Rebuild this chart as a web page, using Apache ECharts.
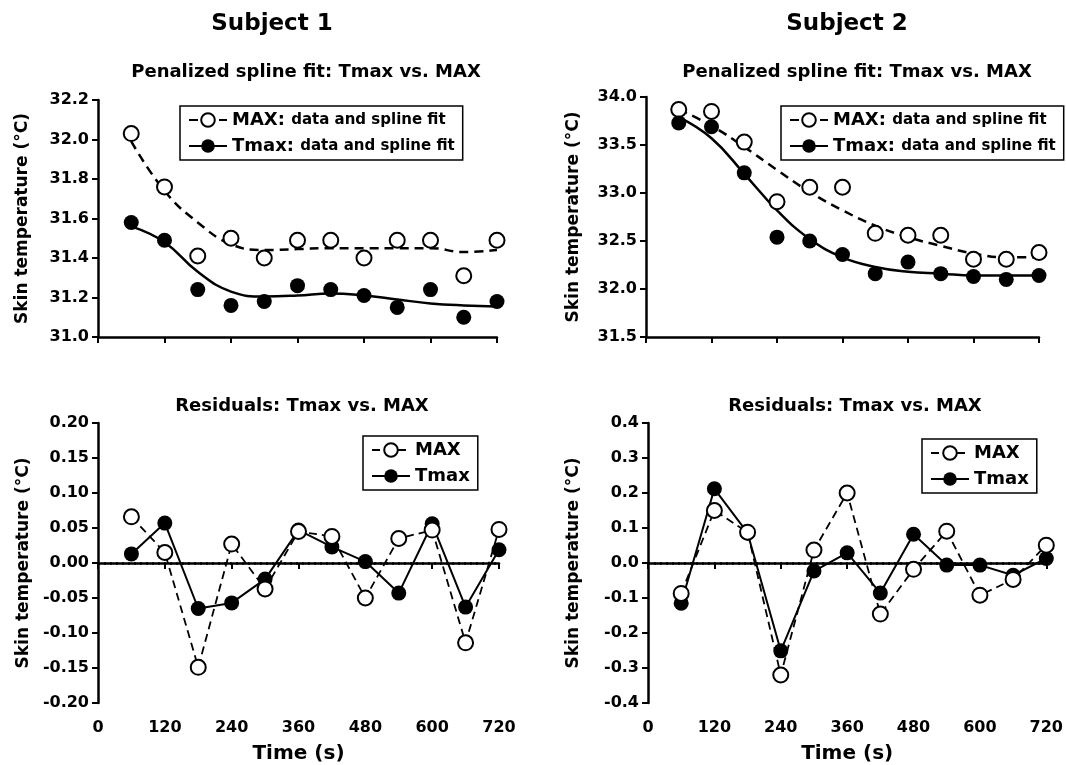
<!DOCTYPE html>
<html>
<head>
<meta charset="utf-8">
<script src="https://cdn.jsdelivr.net/npm/echarts@6.0.0/dist/echarts.min.js"></script>
<style>
  html, body { margin: 0; padding: 0; background: #fff; }
  #main { width: 1066px; height: 765px; }
</style>
</head>
<body>
<div id="main"></div>
<script>
// time points (s)
const times = [60, 120, 180, 240, 300, 360, 420, 480, 540, 600, 660, 720]

// Subject 1, spline panel
const s1MaxData = [32.03, 31.76, 31.41, 31.50, 31.40, 31.49, 31.49, 31.40, 31.49, 31.49, 31.31, 31.49]
const s1TmaxData = [31.58, 31.49, 31.24, 31.16, 31.18, 31.26, 31.24, 31.21, 31.15, 31.24, 31.10, 31.18]
const s1MaxFit = [31.99, 31.74, 31.58, 31.47, 31.44, 31.445, 31.45, 31.45, 31.45, 31.45, 31.43, 31.44]
const s1TmaxFit = [31.56, 31.48, 31.33, 31.23, 31.205, 31.21, 31.22, 31.21, 31.19, 31.17, 31.16, 31.155]

// Subject 2, spline panel
const s2MaxData = [33.87, 33.85, 33.53, 32.91, 33.06, 33.06, 32.58, 32.56, 32.56, 32.31, 32.31, 32.38]
const s2TmaxData = [33.73, 33.69, 33.21, 32.54, 32.50, 32.36, 32.16, 32.28, 32.16, 32.13, 32.10, 32.14]
const s2MaxFit = [33.87, 33.70, 33.48, 33.24, 33.01, 32.82, 32.66, 32.54, 32.45, 32.37, 32.33, 32.33]
const s2TmaxFit = [33.79, 33.57, 33.20, 32.82, 32.52, 32.33, 32.23, 32.18, 32.16, 32.14, 32.14, 32.14]

// residuals
const s1MaxRes = [0.066, 0.015, -0.149, 0.027, -0.037, 0.045, 0.038, -0.050, 0.035, 0.047, -0.114, 0.048]
const s1TmaxRes = [0.013, 0.057, -0.065, -0.057, -0.023, 0.047, 0.023, 0.002, -0.043, 0.056, -0.063, 0.019]
const s2MaxRes = [-0.087, 0.150, 0.088, -0.320, 0.037, 0.200, -0.146, -0.018, 0.091, -0.092, -0.047, 0.051]
const s2TmaxRes = [-0.115, 0.212, 0.086, -0.251, -0.023, 0.029, -0.086, 0.082, -0.006, -0.006, -0.035, 0.013]

const FONT = 'DejaVu Sans'
const pair = (arr) => times.map((t, i) => [t, arr[i]])

const myChart = echarts.init(document.getElementById('main'))

function xAxis(gridIndex, showLabel, name) {
    return {
        type: 'value', gridIndex: gridIndex,
        min: 0, max: 720, interval: 120,
        name: name || '', nameLocation: 'middle', nameGap: 41,
        nameTextStyle: { fontFamily: FONT, fontWeight: 'bold', fontSize: 20, color: '#000' },
        axisLine: { lineStyle: { color: '#000', width: 2.5 } },
        axisTick: { show: true, length: 6, lineStyle: { color: '#000', width: 2 } },
        axisLabel: { show: showLabel, margin: 17, fontFamily: FONT, fontWeight: 'bold', fontSize: 16, color: '#000' },
        splitLine: { show: false },
    }
}

function yAxis(gridIndex, min, max, interval, digits, gap) {
    return {
        type: 'value', gridIndex: gridIndex,
        min: min, max: max, interval: interval,
        name: 'Skin temperature (°C)', nameLocation: 'middle', nameGap: gap,
        nameTextStyle: { fontFamily: FONT, fontWeight: 'bold', fontSize: 17, color: '#000' },
        axisLine: { show: true, lineStyle: { color: '#000', width: 2.5 } },
        axisTick: { show: true, length: 6, lineStyle: { color: '#000', width: 2 } },
        axisLabel: {
            margin: 9, fontFamily: FONT, fontWeight: 'bold', fontSize: 16, color: '#000',
            formatter: (v) => v.toFixed(digits),
        },
        splitLine: { show: false },
    }
}

function legend(left, top, names, rich) {
    return {
        left: left, top: top, orient: 'vertical', selectedMode: false,
        data: names,
        borderColor: '#000', borderWidth: 1.5, borderRadius: 0,
        padding: [5, 8, 5, 8], itemGap: 8,
        itemWidth: 38, itemHeight: 17,
        textStyle: {
            fontFamily: FONT, fontWeight: 'bold', fontSize: 18, color: '#000',
            rich: {
                a: { fontFamily: FONT, fontWeight: 'bold', fontSize: 18, color: '#000' },
                b: { fontFamily: FONT, fontWeight: 'bold', fontSize: 15, color: '#000' },
            },
        },
        formatter: rich ? (name) => {
            const parts = name.split(': ')
            return '{a|' + parts[0] + ':} {b|' + parts[1] + '}'
        } : '{name}',
    }
}

function scatter(name, g, arr, open) {
    return {
        name: name, type: 'scatter', xAxisIndex: g, yAxisIndex: g,
        data: pair(arr), symbol: open ? 'emptyCircle' : 'circle', symbolSize: 15,
        itemStyle: { color: '#000', borderColor: '#000', borderWidth: open ? 2.2 : 0, opacity: 1 },
        z: 5, silent: true,
    }
}

function fit(name, g, arr, dashed) {
    return {
        name: name, type: 'line', xAxisIndex: g, yAxisIndex: g,
        data: pair(arr), smooth: 0.45, showSymbol: false,
        symbol: dashed ? 'emptyCircle' : 'circle', symbolSize: 14,
        itemStyle: { color: '#000', borderWidth: 2 },
        lineStyle: { color: '#000', width: 2.5, type: dashed ? [9, 6] : 'solid' },
        z: 3, silent: true,
    }
}

function resid(name, g, arr, dashed, zero) {
    const s = {
        name: name, type: 'line', xAxisIndex: g, yAxisIndex: g,
        data: pair(arr), symbol: dashed ? 'emptyCircle' : 'circle', symbolSize: 15,
        itemStyle: { color: '#000', borderColor: '#000', borderWidth: dashed ? 2.2 : 0, opacity: 1 },
        lineStyle: { color: '#000', width: dashed ? 1.8 : 2, type: dashed ? [8, 5] : 'solid' },
        z: dashed ? 4 : 3, silent: true,
    }
    if (zero) {
        s.markLine = {
            silent: true, symbol: ['none', 'none'], label: { show: false },
            lineStyle: { color: '#000', width: 2.5, type: [2, 4], opacity: 1 },
            data: [{ yAxis: 0 }], z: 1,
        }
    }
    return s
}

function text(x, y, str, size) {
    return {
        type: 'text', x: x, y: y, silent: true,
        style: {
            text: str, fill: '#000', align: 'center', verticalAlign: 'middle',
            font: 'bold ' + size + 'px "' + FONT + '"',
        },
    }
}

const fitNames = ['MAX: data and spline fit', 'Tmax: data and spline fit']
const resNames = ['MAX', 'Tmax']

const option = {
    animation: false,
    backgroundColor: '#fff',
    textStyle: { fontFamily: FONT },
    graphic: [
        text(272, 24, 'Subject 1', 23),
        text(847, 24, 'Subject 2', 23),
        text(306, 72, 'Penalized spline fit: Tmax vs. MAX', 18),
        text(857, 72, 'Penalized spline fit: Tmax vs. MAX', 18),
        text(302, 406, 'Residuals: Tmax vs. MAX', 18),
        text(855, 406, 'Residuals: Tmax vs. MAX', 18),
    ],
    grid: [
        { left: 98, top: 100, width: 399, height: 237 },
        { left: 646, top: 97, width: 393, height: 240 },
        { left: 98, top: 423, width: 401, height: 280 },
        { left: 648, top: 423, width: 399, height: 281 },
    ],
    xAxis: [
        xAxis(0, false),
        xAxis(1, false),
        xAxis(2, true, 'Time (s)'),
        xAxis(3, true, 'Time (s)'),
    ],
    yAxis: [
        yAxis(0, 31.0, 32.2, 0.2, 1, 67),
        yAxis(1, 31.5, 34.0, 0.5, 1, 64),
        yAxis(2, -0.2, 0.2, 0.05, 2, 66),
        yAxis(3, -0.4, 0.4, 0.1, 1, 66),
    ],
    legend: [
        legend(180, 106, fitNames, true),
        legend(781, 106, fitNames, true),
        legend(363, 436, resNames, false),
        legend(922, 439, resNames, false),
    ],
    series: [
        fit('MAX: data and spline fit', 0, s1MaxFit, true),
        fit('Tmax: data and spline fit', 0, s1TmaxFit, false),
        scatter('MAX data S1', 0, s1MaxData, true),
        scatter('Tmax data S1', 0, s1TmaxData, false),

        fit('MAX: data and spline fit', 1, s2MaxFit, true),
        fit('Tmax: data and spline fit', 1, s2TmaxFit, false),
        scatter('MAX data S2', 1, s2MaxData, true),
        scatter('Tmax data S2', 1, s2TmaxData, false),

        resid('MAX', 2, s1MaxRes, true, false),
        resid('Tmax', 2, s1TmaxRes, false, true),
        resid('MAX', 3, s2MaxRes, true, false),
        resid('Tmax', 3, s2TmaxRes, false, true),
    ],
}

myChart.setOption(option)
</script>
</body>
</html>
